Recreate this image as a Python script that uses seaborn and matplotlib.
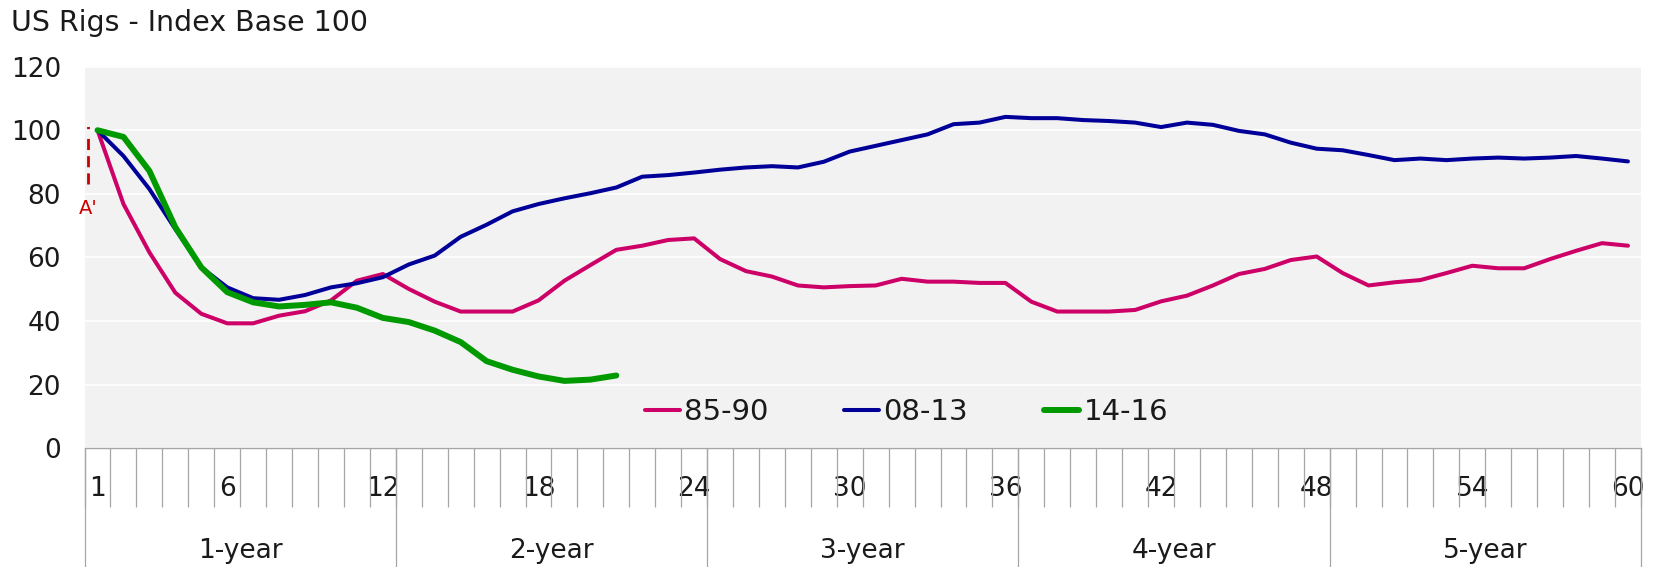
import numpy as np
import pandas as pd
import matplotlib
matplotlib.use("Agg")
import matplotlib.pyplot as plt
from matplotlib.transforms import blended_transform_factory
import seaborn as sns

# ---- data -------------------------------------------------------------
months = list(range(1, 61))
tick_months = [1, 6, 12, 18, 24, 30, 36, 42, 48, 54, 60]
year_labels = ["1-year", "2-year", "3-year", "4-year", "5-year"]

rigs_85_90 = [100, 76.8, 61.6, 48.9, 42.3, 39.3, 39.3, 41.7, 43.1, 46.5,
              52.7, 54.8, 50.1, 46.1, 43.0, 43.0, 43.0, 46.5, 52.7, 57.6,
              62.4, 63.7, 65.5, 66.0, 59.5, 55.7, 54.0, 51.2, 50.6, 51.0,
              51.2, 53.3, 52.4, 52.4, 52.0, 52.0, 46.1, 43.0, 43.0, 43.0,
              43.5, 46.2, 48.0, 51.2, 54.8, 56.4, 59.2, 60.3, 55.1, 51.2,
              52.2, 52.9, 55.1, 57.4, 56.6, 56.6, 59.5, 62.1, 64.5, 63.7]
rigs_08_13 = [100, 91.9, 81.5, 68.9, 56.9, 50.6, 47.2, 46.7, 48.2, 50.6,
              51.9, 53.8, 57.8, 60.6, 66.5, 70.3, 74.5, 76.8, 78.6, 80.2,
              82.0, 85.4, 85.9, 86.7, 87.6, 88.3, 88.7, 88.3, 90.1, 93.3,
              95.1, 96.9, 98.7, 101.9, 102.4, 104.2, 103.8, 103.8, 103.2, 102.9,
              102.4, 101.0, 102.4, 101.7, 99.8, 98.7, 96.1, 94.2, 93.7, 92.2,
              90.6, 91.1, 90.6, 91.1, 91.4, 91.1, 91.4, 91.9, 91.1, 90.2]
rigs_14_16 = [100, 97.9, 87.2, 69.5, 56.9, 49.1, 45.9, 44.6, 45.1, 45.9,
              44.2, 41.0, 39.7, 37.0, 33.4, 27.4, 24.7, 22.6, 21.2, 21.6,
              22.9]

series = {
    "85-90": (rigs_85_90, "#CC0066", 2.9),
    "08-13": (rigs_08_13, "#000099", 2.9),
    "14-16": (rigs_14_16, "#009900", 4.3),
}

frames = []
for name, (vals, _, _) in series.items():
    frames.append(pd.DataFrame({"month": months[:len(vals)],
                                "value": vals, "series": name}))
df = pd.concat(frames, ignore_index=True)
df["pos"] = df["month"] - 1  # category position on the x axis

# ---- style ------------------------------------------------------------
sns.set_style("whitegrid", {"axes.facecolor": "#F2F2F2",
                            "grid.color": "white",
                            "axes.edgecolor": "#A6A6A6"})
plt.rcParams["font.family"] = ["DejaVu Sans"]
FS = 19
TXT = "#1a1a1a"

fig = plt.figure(figsize=(16.58, 5.67), dpi=100)
ax = fig.add_axes([0.051, 0.2093, 0.9387, 0.6732])

for name, (vals, color, lw) in series.items():
    sub = df[df["series"] == name]
    sns.lineplot(data=sub, x="pos", y="value", color=color, linewidth=lw,
                 label=name, ax=ax, solid_capstyle="round",
                 solid_joinstyle="round")

# y axis
ax.set_ylim(0, 120)
ax.set_yticks(np.arange(0, 121, 20))
ax.tick_params(axis="y", length=0, pad=17, labelsize=FS, labelcolor=TXT)
ax.grid(axis="y", color="white", linewidth=1.2)
ax.grid(axis="x", visible=False)

# x axis: category boundaries as minor ticks, selected month labels as major
ax.set_xlim(-0.5, 59.5)
ax.set_xticks([m - 1 for m in tick_months])
ax.set_xticklabels([str(m) for m in tick_months])
ax.set_xticks(np.arange(-0.5, 60, 1), minor=True)
ax.tick_params(axis="x", which="major", length=0, pad=20,
               labelsize=FS, labelcolor=TXT)
ax.tick_params(axis="x", which="minor", length=42.5, width=0.9,
               color="#A6A6A6", direction="out", bottom=True)

for side in ("left", "right", "top"):
    ax.spines[side].set_visible(False)
ax.spines["bottom"].set_color("#A6A6A6")
ax.spines["bottom"].set_linewidth(1.0)
ax.set_xlabel("")
ax.set_ylabel("")

# year grouping below the month labels
trans = blended_transform_factory(ax.transData, ax.transAxes)
for k in range(len(year_labels) + 1):
    xb = 12 * k - 0.5
    ax.plot([xb, xb], [0, -0.312], transform=trans, color="#A6A6A6",
            linewidth=0.9, clip_on=False)
for k, lab in enumerate(year_labels):
    ax.text(12 * k + 5.5, -0.27, lab, transform=trans, ha="center",
            va="center", fontsize=FS, color=TXT)

# start-of-cycle marker
ax.plot([-0.36, -0.36], [83, 103], color="#CC0000", linewidth=2,
        linestyle=(0, (4, 2.2, 4, 2.2, 4, 3.5, 0.8, 2)), clip_on=False)
ax.text(-0.36, 75.5, "A'", ha="center", va="center", fontsize=14,
        color="#CC0000")

# legend inside the plot area
leg = ax.legend(loc="center", bbox_to_anchor=(0.528, 0.095), ncol=3,
                frameon=False, fontsize=21, handlelength=1.2,
                handletextpad=0.15, columnspacing=2.6)
for txt in leg.get_texts():
    txt.set_color(TXT)

fig.text(0.0064, 0.959, "US Rigs - Index Base 100", fontsize=20.5,
         ha="left", va="center", color=TXT)

fig.savefig("out.png", dpi=100)
